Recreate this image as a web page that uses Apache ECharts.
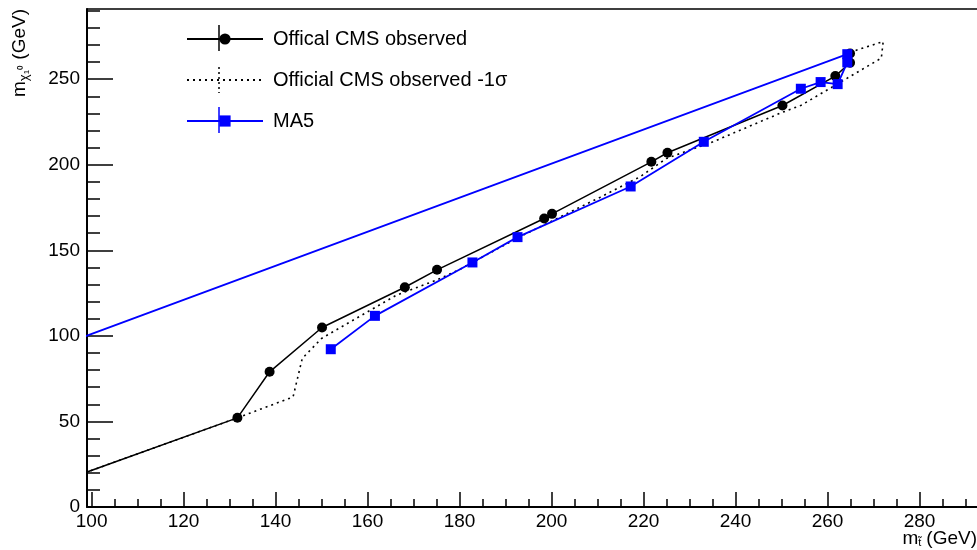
<!DOCTYPE html>
<html>
<head>
<meta charset="utf-8">
<script src="https://cdn.jsdelivr.net/npm/echarts@6/dist/echarts.min.js"></script>
<style>
html, body { margin: 0; padding: 0; background: #fff; }
#main { width: 977px; height: 550px; }
</style>
</head>
<body>
<div id="main"></div>
<script>
// values (GeV)
var obsX = [90, 131.7, 138.7, 150.1, 168.1, 175.1, 198.4, 200.1, 221.7, 225.2, 250.2, 261.7, 264.9, 264.9];
var obsY = [11.7, 52.1, 79.0, 104.9, 128.4, 138.6, 168.6, 171.3, 201.7, 207.0, 234.6, 251.8, 259.6, 265.0];

var sigX = [90, 131.7, 143.8, 145.8, 150.0, 166.3, 175.0, 180.0, 192.6, 210.5, 219.2, 225.0, 235.1, 249.6, 254.3, 271.7, 272.1, 265.9];
var sigY = [11.7, 52.1, 64.3, 86.8, 98.5, 123.8, 132.6, 138.8, 157.2, 180.9, 192.9, 203.7, 213.4, 230.0, 234.8, 262.3, 272.0, 266.6];

var ma5X = [152.0, 161.6, 182.8, 192.6, 217.2, 233.1, 254.2, 258.5, 262.2, 264.3, 264.3, 90];
var ma5Y = [92.2, 111.7, 142.9, 157.7, 187.3, 213.4, 244.4, 248.3, 247.1, 259.8, 264.6, 91.2];

var xMajorTicks = [100, 120, 140, 160, 180, 200, 220, 240, 260, 280];
var xMinorTicks = [105, 110, 115, 125, 130, 135, 145, 150, 155, 165, 170, 175, 185, 190, 195,
	205, 210, 215, 225, 230, 235, 245, 250, 255, 265, 270, 275, 285, 290];
var yMajorTicks = [0, 50, 100, 150, 200, 250];
var yMinorTicks = [10, 20, 30, 40, 60, 70, 80, 90, 110, 120, 130, 140, 160, 170, 180, 190,
	210, 220, 230, 240, 260, 270, 280, 290];

var names = ['Offical CMS observed', 'Official CMS observed -1\u03c3', 'MA5'];

function pairs(xs, ys) {
	var out = [];
	for (var i = 0; i < xs.length; i++) {
		out.push([xs[i], ys[i]]);
	}
	return out;
}

var font = 'Liberation Sans, Arial, Helvetica, sans-serif';
var xMin = 99, xMax = 292.5, yMin = 0, yMax = 291;

function xAxisBase(grid) {
	return {
		type: 'value', gridIndex: grid, min: xMin, max: xMax,
		splitLine: { show: false }
	};
}
function yAxisBase(grid) {
	return {
		type: 'value', gridIndex: grid, min: yMin, max: yMax,
		splitLine: { show: false }
	};
}

var myChart = echarts.init(document.getElementById('main'));

var xMain = xAxisBase(0);
xMain.position = 'bottom';
xMain.axisLine = { lineStyle: { color: '#000', width: 2 } };
xMain.axisTick = { inside: true, length: 15, customValues: xMajorTicks, lineStyle: { color: '#000', width: 1.5 } };
xMain.axisLabel = { customValues: xMajorTicks, color: '#000', fontSize: 19, fontFamily: font, margin: 5 };

var xTop = xAxisBase(0);
xTop.position = 'top';
xTop.axisLine = { lineStyle: { color: '#000', width: 1.5 } };
xTop.axisTick = { show: false };
xTop.axisLabel = { show: false };

var xMinor = xAxisBase(1);
xMinor.position = 'bottom';
xMinor.axisLine = { show: false };
xMinor.axisTick = { inside: true, length: 8, customValues: xMinorTicks, lineStyle: { color: '#000', width: 1.5 } };
xMinor.axisLabel = { show: false };

var yMain = yAxisBase(0);
yMain.position = 'left';
yMain.axisLine = { lineStyle: { color: '#000', width: 2 } };
yMain.axisTick = { inside: true, length: 26, customValues: yMajorTicks, lineStyle: { color: '#000', width: 1.5 } };
yMain.axisLabel = { customValues: yMajorTicks, color: '#000', fontSize: 19, fontFamily: font, margin: 7 };

var yMinor = yAxisBase(1);
yMinor.position = 'left';
yMinor.axisLine = { show: false };
yMinor.axisTick = { inside: true, length: 13, customValues: yMinorTicks, lineStyle: { color: '#000', width: 1.5 } };
yMinor.axisLabel = { show: false };

var option = {
	animation: false,
	backgroundColor: '#fff',
	grid: [
		{ left: 87, right: 0, top: 9, bottom: 43 },
		{ left: 87, right: 0, top: 9, bottom: 43 }
	],
	xAxis: [xMain, xTop, xMinor],
	yAxis: [yMain, yMinor],
	legend: {
		orient: 'vertical',
		left: 181,
		top: 24,
		itemWidth: 76,
		itemHeight: 14,
		itemGap: 21,
		data: [
			names[0],
			{ name: names[1], itemStyle: { color: 'rgba(0,0,0,0)', borderWidth: 0 } },
			names[2]
		],
		textStyle: { color: '#000', fontSize: 20, fontFamily: font, padding: [0, 0, 0, 5] }
	},
	graphic: [
		{ type: 'line', shape: { x1: 219, y1: 25, x2: 219, y2: 51 }, style: { stroke: '#000', lineWidth: 1.5 } },
		{ type: 'line', shape: { x1: 219, y1: 67, x2: 219, y2: 93 }, style: { stroke: '#000', lineWidth: 1.5, lineDash: [2, 3] } },
		{ type: 'line', shape: { x1: 219, y1: 107, x2: 219, y2: 133 }, style: { stroke: '#0000ff', lineWidth: 1.5 } },
		{
			type: 'text', x: 20, y: 9, rotation: Math.PI / 2,
			style: {
				text: '{m|m}{s|\u03c7\u2081\u2070}{m| (GeV)}',
				align: 'right', verticalAlign: 'middle',
				rich: {
					m: { fontSize: 19, fontFamily: font, fill: '#000' },
					s: { fontSize: 13, fontFamily: font, fill: '#000', verticalAlign: 'bottom', padding: [8, 0, 0, 0] }
				}
			}
		},
		{
			type: 'text', x: 977, y: 548,
			style: {
				text: '{m|m}{s|t\u0303}{g|(GeV)}',
				align: 'right', verticalAlign: 'bottom',
				rich: {
					m: { fontSize: 19, fontFamily: font, fill: '#000' },
					g: { fontSize: 19, fontFamily: font, fill: '#000', padding: [0, 0, 0, 5] },
					s: { fontSize: 11, fontFamily: font, fill: '#000', verticalAlign: 'bottom', padding: [8, 0, 0, 0] }
				}
			}
		}
	],
	series: [
		{
			name: names[1], type: 'line', xAxisIndex: 0, yAxisIndex: 0,
			data: pairs(sigX, sigY), symbol: 'none',
			lineStyle: { color: '#000', width: 1.6, type: [2, 4] },
			itemStyle: { color: '#000' }, z: 2
		},
		{
			name: names[0], type: 'line', xAxisIndex: 0, yAxisIndex: 0,
			data: pairs(obsX, obsY), symbol: 'circle', symbolSize: 10,
			lineStyle: { color: '#000', width: 1.5 },
			itemStyle: { color: '#000' }, z: 3
		},
		{
			name: names[2], type: 'line', xAxisIndex: 0, yAxisIndex: 0,
			data: pairs(ma5X, ma5Y), symbol: 'rect', symbolSize: 10,
			lineStyle: { color: '#0000ff', width: 1.8 },
			itemStyle: { color: '#0000ff' }, z: 4
		}
	]
};

myChart.setOption(option);
</script>
</body>
</html>
